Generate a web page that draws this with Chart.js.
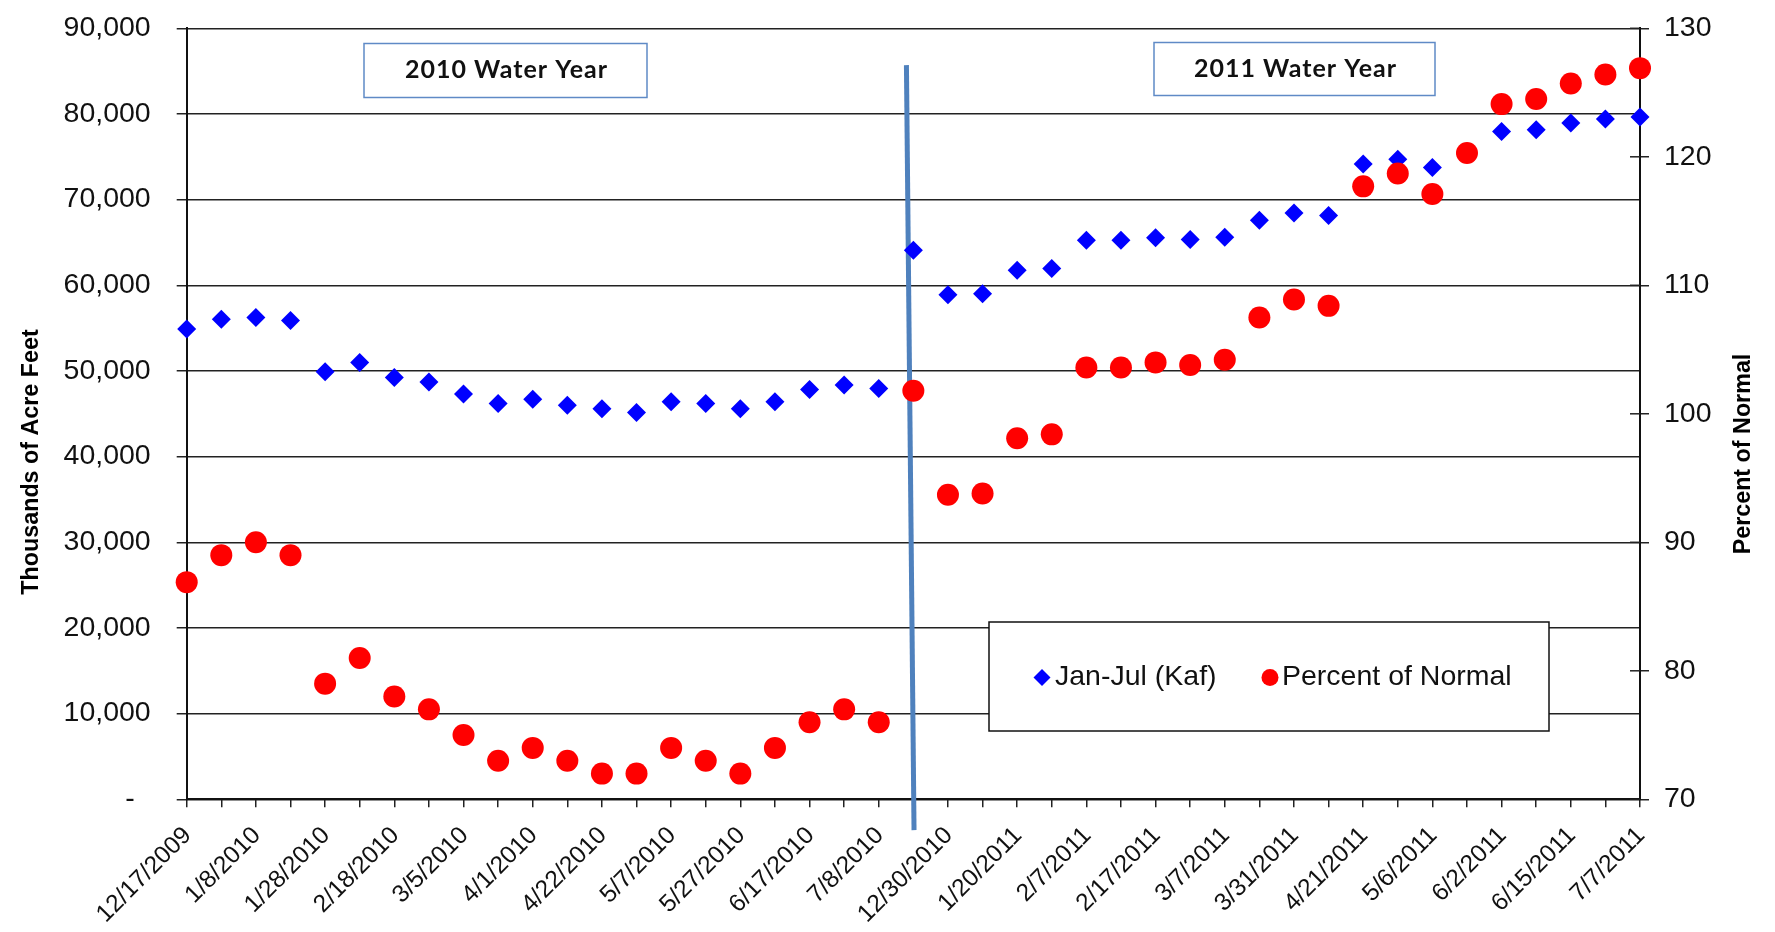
<!DOCTYPE html>
<html>
<head>
<meta charset="utf-8">
<title>Jan-Jul (Kaf) and Percent of Normal</title>
<script src="https://cdn.jsdelivr.net/npm/chart.js@4.4.1/dist/chart.umd.min.js"></script>
<style>
  html, body { margin: 0; padding: 0; background: #fff; }
  #wrap { width: 1775px; height: 932px; }
</style>
</head>
<body>
<div id="wrap"><canvas id="my-chart" width="1775" height="932"></canvas></div>
<script>
// dates written under the axis, one for every other reading
const tickLabels = [
    '12/17/2009', '1/8/2010', '1/28/2010', '2/18/2010', '3/5/2010', '4/1/2010',
    '4/22/2010', '5/7/2010', '5/27/2010', '6/17/2010', '7/8/2010', '12/30/2010',
    '1/20/2011', '2/7/2011', '2/17/2011', '3/7/2011', '3/31/2011', '4/21/2011',
    '5/6/2011', '6/2/2011', '6/15/2011', '7/7/2011'
];

// Jan-Jul forecast, thousands of acre feet (left axis)
const kafValues = [
    54900, 56050, 56250, 55900, 49900, 51000, 49250, 48700, 47300, 46200, 46700,
    46000, 45600, 45150, 46400, 46200, 45600, 46400, 47850, 48350, 47950,
    64100, 58900, 59000, 61750, 61950, 65250, 65250, 65550, 65350, 65600, 67600,
    68450, 68150, 74150, 74700, 73750, 75500, 77950, 78150, 78950, 79400, 79650
];

// percent of normal (right axis)
const pctValues = [
    86.9, 89, 90, 89, 79, 81, 78, 77, 75, 73, 74,
    73, 72, 72, 74, 73, 72, 74, 76, 77, 76,
    101.8, 93.7, 93.8, 98.1, 98.4, 103.6, 103.6, 104.0, 103.8, 104.2, 107.5,
    108.9, 108.4, 117.7, 118.7, 117.1, 120.3, 124.1, 124.5, 125.7, 126.4, 126.9
];

const seriesNames = ['Jan-Jul (Kaf)', 'Percent of Normal'];
const waterYears = ['2010 Water Year', '2011 Water Year'];

// blue line between the two water years: [category index, kaf]
const dividerTop = [20.8, 85700];
const dividerBottom = [21.02, -3600];

// every reading gets a tick, only every other one a date
const categories = [];
tickLabels.forEach((d, i) => {
    categories.push(d);
    if (i < tickLabels.length - 1) categories.push('');
});

const FONT = '"Liberation Sans", Arial, sans-serif';
Chart.defaults.font.family = FONT;
Chart.defaults.color = '#111';

const overlay = {
    id: 'overlay',
    beforeDatasetsDraw(chart) {
        const { ctx, chartArea, scales: { x, y, y1 } } = chart;
        ctx.save();
        // right axis ticks cross the axis, draw the inner half
        ctx.strokeStyle = '#222';
        ctx.lineWidth = 1.5;
        y1.ticks.forEach(t => {
            const py = y1.getPixelForValue(t.value);
            ctx.beginPath();
            ctx.moveTo(chartArea.right - 10, py);
            ctx.lineTo(chartArea.right, py);
            ctx.stroke();
        });
        // divider between water years
        ctx.strokeStyle = '#4f81bd';
        ctx.lineWidth = 5;
        ctx.beginPath();
        ctx.moveTo(x.getPixelForValue(dividerTop[0]), y.getPixelForValue(dividerTop[1]));
        ctx.lineTo(x.getPixelForValue(dividerBottom[0]), y.getPixelForValue(dividerBottom[1]));
        ctx.stroke();
        ctx.restore();
    },
    afterDraw(chart) {
        const ctx = chart.ctx;
        ctx.save();

        // axis titles
        ctx.fillStyle = '#000';
        ctx.font = 'bold 23.3px ' + FONT;
        ctx.textAlign = 'center';
        ctx.textBaseline = 'middle';
        [['Thousands of Acre Feet', 32, 462], ['Percent of Normal', 1744, 454]].forEach(([txt, tx, ty]) => {
            ctx.save();
            ctx.translate(tx, ty);
            ctx.rotate(-Math.PI / 2);
            ctx.fillText(txt, 0, 0);
            ctx.restore();
        });

        // water year boxes
        const boxes = [[364, 43.5, 283, 54], [1154, 42.5, 281, 53]];
        boxes.forEach(([bx, by, bw, bh], i) => {
            ctx.fillStyle = '#fff';
            ctx.fillRect(bx, by, bw, bh);
            ctx.strokeStyle = '#5f8ac6';
            ctx.lineWidth = 1.5;
            ctx.strokeRect(bx, by, bw, bh);
            ctx.fillStyle = '#111';
            ctx.font = 'bold 25px Lato, "Open Sans", sans-serif';
            ctx.letterSpacing = '1px';
            ctx.textAlign = 'center';
            ctx.textBaseline = 'alphabetic';
            ctx.fillText(waterYears[i], bx + bw / 2 + 1, by + 34);
            ctx.letterSpacing = '0px';
        });

        // legend
        ctx.fillStyle = '#fff';
        ctx.fillRect(989, 622, 560, 109);
        ctx.strokeStyle = '#111';
        ctx.lineWidth = 1.5;
        ctx.strokeRect(989, 622, 560, 109);
        const slots = [[1042, 1055], [1270, 1282]];
        const ly = 677.5;
        chart.data.datasets.forEach((ds, i) => {
            const [mx, tx] = slots[i];
            ctx.fillStyle = ds.backgroundColor;
            ctx.beginPath();
            if (ds.pointStyle === 'rectRot') {
                ctx.moveTo(mx - 8.5, ly);
                ctx.lineTo(mx, ly - 8.5);
                ctx.lineTo(mx + 8.5, ly);
                ctx.lineTo(mx, ly + 8.5);
                ctx.closePath();
            } else {
                ctx.arc(mx, ly, 8.5, 0, Math.PI * 2);
            }
            ctx.fill();
            ctx.fillStyle = '#111';
            ctx.font = '28.5px ' + FONT;
            ctx.textAlign = 'left';
            ctx.textBaseline = 'middle';
            ctx.fillText(ds.label, tx, ly);
        });
        ctx.restore();
    }
};

// keep the plot box where the original has it: labels must not push it around
function fixWidth(w) {
    return s => {
        s.width = w;
        s.paddingTop = 0;
        s.paddingBottom = 0;
    };
}

const canvas = document.getElementById('my-chart').getContext('2d');
canvas.chartInstance = new Chart(canvas, {
    type: 'line',
    data: {
        labels: categories,
        datasets: [{
            label: seriesNames[0],
            data: kafValues,
            yAxisID: 'y',
            showLine: false,
            pointStyle: 'rectRot',
            pointRadius: 9.5,
            pointHoverRadius: 9.5,
            borderWidth: 0,
            backgroundColor: '#0000ff',
            borderColor: '#0000ff',
            clip: false,
            order: 2
        }, {
            label: seriesNames[1],
            data: pctValues,
            yAxisID: 'y1',
            showLine: false,
            pointStyle: 'circle',
            pointRadius: 11,
            pointHoverRadius: 11,
            borderWidth: 0,
            backgroundColor: '#ff0000',
            borderColor: '#ff0000',
            clip: false,
            order: 1
        }]
    },
    options: {
        responsive: false,
        animation: false,
        devicePixelRatio: 1,
        layout: { padding: { top: 28.3, left: 0, right: 0, bottom: 0 } },
        plugins: {
            legend: { display: false },
            tooltip: { enabled: false }
        },
        scales: {
            x: {
                offset: false,
                grid: { display: true, drawOnChartArea: false, drawTicks: true, tickLength: 8, color: '#222', lineWidth: 1.5 },
                border: { display: true, color: '#111', width: 2 },
                ticks: {
                    autoSkip: false,
                    maxRotation: 45,
                    minRotation: 45,
                    padding: 14,
                    labelOffset: 1,
                    font: { size: 24.5 },
                    color: '#111'
                },
                afterFit: s => { s.height = 932 - 799.3; }
            },
            y: {
                position: 'left',
                min: 0,
                max: 90000,
                grid: { color: '#222', lineWidth: 1.5, tickLength: 10 },
                border: { display: true, color: '#111', width: 2 },
                ticks: {
                    stepSize: 10000,
                    padding: 26,
                    font: { size: 28.5 },
                    color: '#111',
                    callback: v => v === 0 ? '-  ' : v.toLocaleString('en-US')
                },
                afterFit: fixWidth(186.7)
            },
            y1: {
                position: 'right',
                min: 70,
                max: 130,
                grid: { drawOnChartArea: false, tickLength: 9, color: '#222', lineWidth: 1.5 },
                border: { display: true, color: '#111', width: 2 },
                ticks: {
                    stepSize: 10,
                    padding: 15,
                    font: { size: 28.5 },
                    color: '#111'
                },
                afterFit: fixWidth(1775 - 1640)
            }
        }
    },
    plugins: [overlay]
});
</script>
</body>
</html>
